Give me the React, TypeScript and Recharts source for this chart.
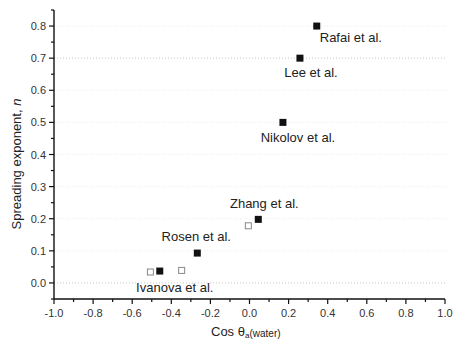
import { ScatterChart, Scatter, XAxis, YAxis, ReferenceLine } from "recharts";

// spreading exponent n against cos(theta_a) for water, one point per study
const studies = ["Rafai et al.", "Lee et al.", "Nikolov et al.", "Zhang et al.", "Rosen et al.", "Ivanova et al."];
const studyCos = [0.344, 0.258, 0.171, 0.045, -0.267, -0.459];
const studyN = [0.8, 0.7, 0.5, 0.198, 0.093, 0.037];

// open markers (unlabelled measurements)
const openCos = [-0.507, -0.347, -0.006];
const openN = [0.034, 0.039, 0.178];

const xTicks = [-1.0, -0.9, -0.8, -0.7, -0.6, -0.5, -0.4, -0.3, -0.2, -0.1, 0, 0.1, 0.2, 0.3, 0.4, 0.5, 0.6, 0.7, 0.8, 0.9, 1.0];
const xMajor = [-1.0, -0.8, -0.6, -0.4, -0.2, 0, 0.2, 0.4, 0.6, 0.8, 1.0];
const yTicks = [-0.05, 0, 0.05, 0.1, 0.15, 0.2, 0.25, 0.3, 0.35, 0.4, 0.45, 0.5, 0.55, 0.6, 0.65, 0.7, 0.75, 0.8, 0.85];
const yMajor = [0, 0.1, 0.2, 0.3, 0.4, 0.5, 0.6, 0.7, 0.8];

// where each study's name sits relative to its marker: [anchor, dx, dy]
const labelPlacement: [string, number, number][] = [
  ["start", 3, 16],
  ["middle", 11, 19],
  ["middle", 15, 20],
  ["middle", 6, -11],
  ["middle", -1, -12],
  ["middle", 15, 21],
];

const filled = studies.map((name, i) => ({ name, x: studyCos[i], y: studyN[i] }));
const open = openCos.map((x, i) => ({ x, y: openN[i] }));

const FONT = "'Liberation Sans', Arial, sans-serif";
const TICK_SIZE = 5;
const TICK_MARGIN = 3;
const isMajor = (list: number[], v: number) => list.some((m) => Math.abs(m - v) < 1e-6);

const XTick = (props: any) => {
  const { x, y, payload } = props;
  const axisY = y - TICK_SIZE - TICK_MARGIN;
  const major = isMajor(xMajor, payload.value);
  return (
    <g>
      <line x1={x} x2={x} y1={axisY} y2={axisY + (major ? 5 : 3)} stroke="#111" strokeWidth={1.2} />
      {major && (
        <text x={x} y={axisY + 18} textAnchor="middle" fontSize={11} fontFamily={FONT} fill="#333">
          {payload.value.toFixed(1)}
        </text>
      )}
    </g>
  );
};

const YTick = (props: any) => {
  const { x, y, payload } = props;
  const axisX = x + TICK_SIZE + TICK_MARGIN;
  const major = isMajor(yMajor, payload.value);
  return (
    <g>
      <line x1={axisX} x2={axisX - (major ? 5 : 3)} y1={y} y2={y} stroke="#111" strokeWidth={1.2} />
      {major && (
        <text x={axisX - 8} y={y + 4} textAnchor="end" fontSize={11} fontFamily={FONT} fill="#333">
          {payload.value.toFixed(1)}
        </text>
      )}
    </g>
  );
};

const FilledSquare = (props: any) => {
  const { cx, cy, index } = props;
  const [anchor, dx, dy] = labelPlacement[index];
  return (
    <g>
      <rect x={cx - 3.5} y={cy - 3.5} width={7} height={7} fill="#111" />
      <text x={cx + dx} y={cy + dy} textAnchor={anchor as any} fontSize={13} fontFamily={FONT} fill="#222">
        {studies[index]}
      </text>
    </g>
  );
};

const OpenSquare = (props: any) => {
  const { cx, cy } = props;
  return <rect x={cx - 3} y={cy - 3} width={6} height={6} fill="#fff" stroke="#888" strokeWidth={1} />;
};

const YLabel = ({ viewBox }: any) => {
  const cx = viewBox.x + 16;
  const cy = viewBox.y + 154;
  return (
    <text
      x={cx}
      y={cy}
      transform={`rotate(-90, ${cx}, ${cy})`}
      textAnchor="middle"
      dominantBaseline="central"
      fontSize={13}
      fontFamily={FONT}
      fill="#222"
    >
      Spreading exponent, <tspan fontStyle="italic">n</tspan>
    </text>
  );
};

const XLabel = ({ viewBox }: any) => (
  <text x={viewBox.x + 157} y={viewBox.y + 37} fontSize={13} fontFamily={FONT} fill="#222">
    Cos θ
    <tspan fontSize={8} dy={2}>a</tspan>
    <tspan fontSize={10} dy={-1}>(water)</tspan>
  </text>
);

export default function App() {
  return (
    <div style={{ position: "absolute", left: 0, top: 0, background: "#fff" }}>
      <ScatterChart width={454} height={343} margin={{ top: 10, right: 9, left: 0, bottom: 0 }}>
        {yMajor.map((v) => (
          <ReferenceLine
            key={v}
            y={v}
            stroke={v === 0 || v === 0.7 ? "#c8c8c8" : "#ececec"}
            strokeDasharray="1 2"
          />
        ))}
        <XAxis
          type="number"
          dataKey="x"
          domain={[-1, 1]}
          allowDataOverflow
          ticks={xTicks}
          interval={0}
          tick={<XTick />}
          tickLine={false}
          tickSize={TICK_SIZE}
          tickMargin={TICK_MARGIN}
          height={44}
          axisLine={{ stroke: "#111", strokeWidth: 1.4 }}
          label={<XLabel />}
        />
        <YAxis
          type="number"
          dataKey="y"
          domain={[-0.05, 0.85]}
          allowDataOverflow
          ticks={yTicks}
          interval={0}
          tick={<YTick />}
          tickLine={false}
          tickSize={TICK_SIZE}
          tickMargin={TICK_MARGIN}
          width={54}
          axisLine={{ stroke: "#111", strokeWidth: 1.4 }}
          label={<YLabel />}
        />
        <XAxis xAxisId="top" orientation="top" type="number" domain={[0, 1]} height={0} tick={false} tickLine={false} axisLine={{ stroke: "#333", strokeWidth: 1.2 }} />
        <YAxis yAxisId="right" orientation="right" type="number" domain={[0, 1]} width={0} tick={false} tickLine={false} axisLine={{ stroke: "#333", strokeWidth: 1.2 }} />
        <Scatter data={open} shape={<OpenSquare />} isAnimationActive={false} />
        <Scatter data={filled} shape={<FilledSquare />} isAnimationActive={false} />
      </ScatterChart>
    </div>
  );
}
